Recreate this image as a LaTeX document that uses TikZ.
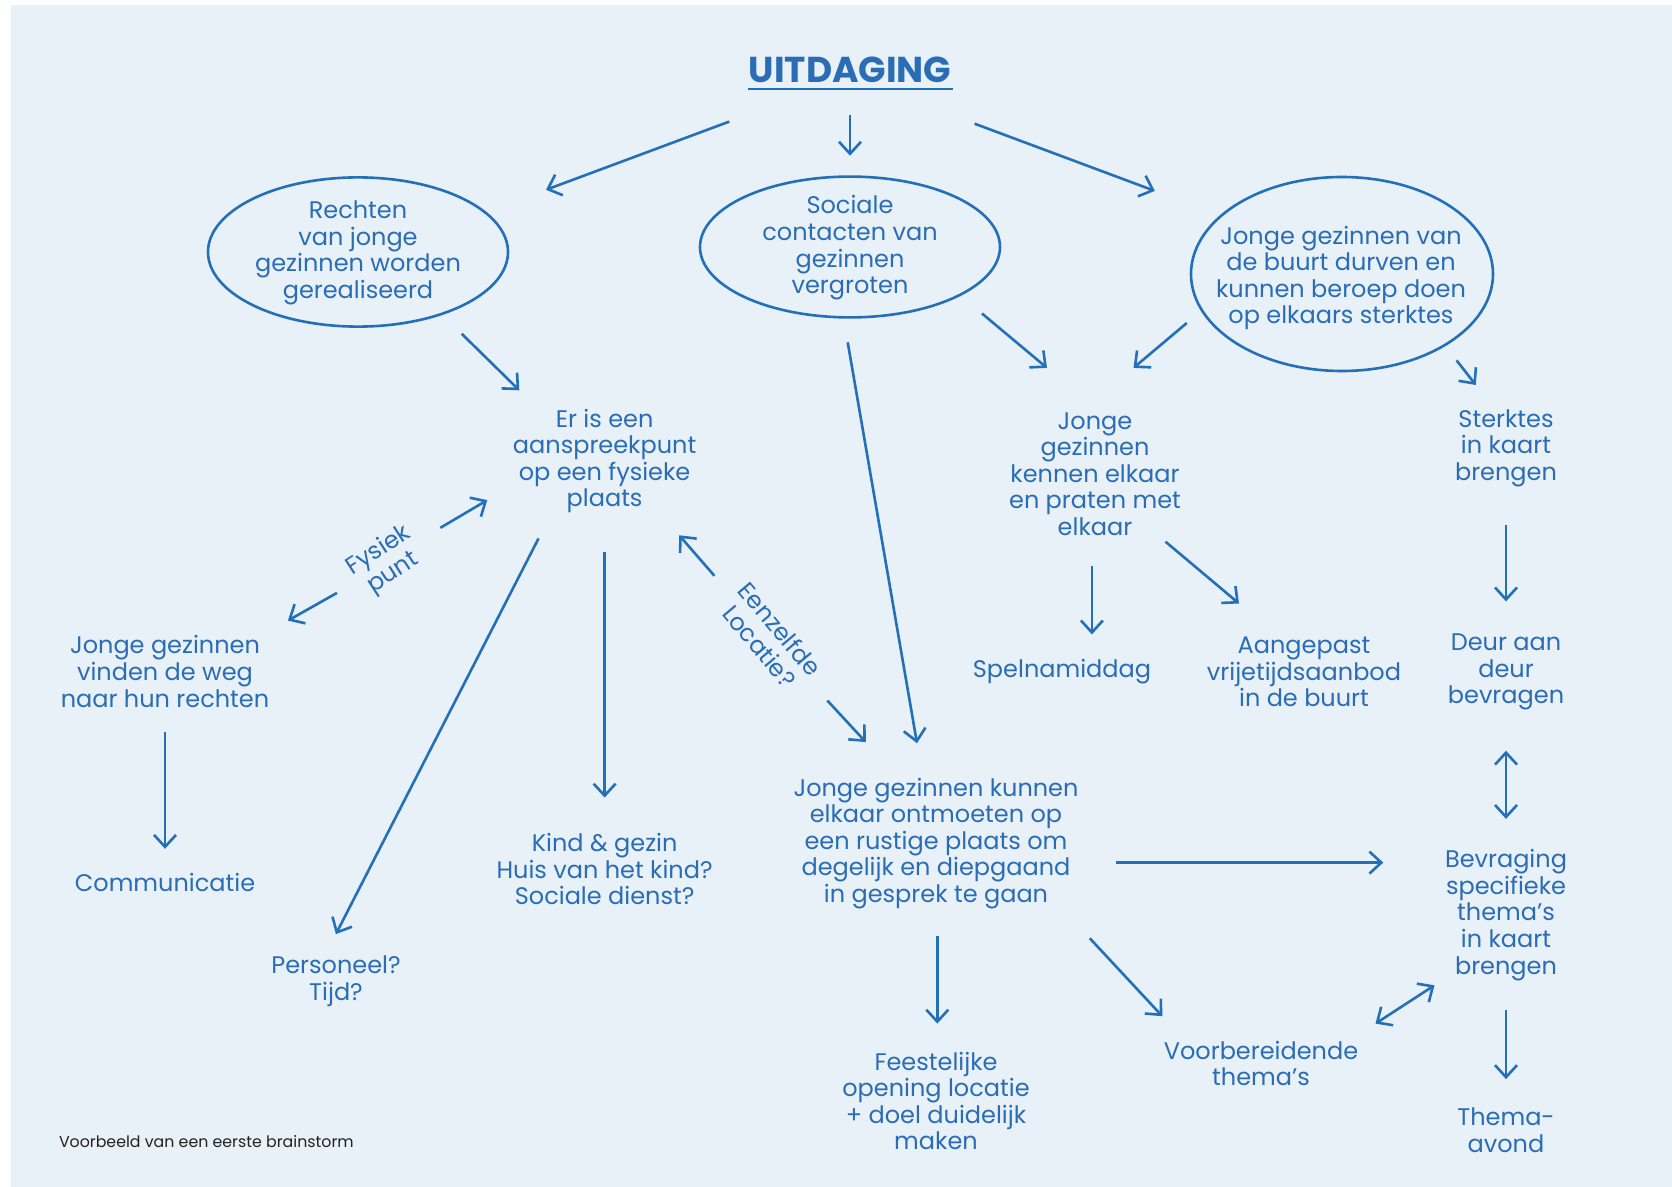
\documentclass[tikz,border=0pt]{standalone}
\usepackage{fontspec}
\setmainfont{Poppins}
\usetikzlibrary{arrows.meta,shapes.geometric}
\definecolor{bgc}{HTML}{E8F0F8}
\definecolor{lblue}{HTML}{2470B8}
\definecolor{tblue}{HTML}{2A6DB5}
\definecolor{footc}{HTML}{222222}
\begin{document}
\begin{tikzpicture}[x=0.5pt,y=-0.5pt,
  txt/.style={align=center,inner sep=0pt,text=tblue,font=\fontsize{12}{13.3}\selectfont},
  arr/.style={draw=lblue,line width=1.3pt,-{Straight Barb[length=6pt,width=11pt]}},
  darr/.style={draw=lblue,line width=1.3pt,{Straight Barb[length=6pt,width=11pt]}-{Straight Barb[length=6pt,width=11pt]}},
  ell/.style={draw=lblue,line width=1.3pt,ellipse,inner sep=0pt}]
\useasboundingbox (0,0) rectangle (1672,1187);
\fill[bgc] (11,5) rectangle (1672,1187);
% title
\node[font=\fontsize{18}{20}\selectfont\bfseries,text=tblue,inner sep=0pt] (title) at (850,70) {UITDAGING};
\draw[lblue,line width=0.9pt] ([shift={(-102,19)}]title.center) -- ([shift={(103,19)}]title.center);
% ellipses
\node[ell,minimum width=150pt,minimum height=74.6pt] (e1) at (358,252) {};
\node[ell,minimum width=150pt,minimum height=70.4pt] (e2) at (850,247) {};
\node[ell,minimum width=151pt,minimum height=97pt] (e3) at (1342,274) {};
\node[txt] (t1) at (358,253) {Rechten\\van jonge\\gezinnen worden\\gerealiseerd};
\node[txt] (t2) at (850,248) {Sociale\\contacten van\\gezinnen\\vergroten};
\node[txt] (t3) at (1341,278) {Jonge gezinnen van\\de buurt durven en\\kunnen beroep doen\\op elkaars sterktes};
% text nodes
\node[txt] (asp) at (604.6,461) {Er is een\\aanspreekpunt\\op een fysieke\\plaats};
\node[txt] (ken) at (1095,474) {Jonge\\gezinnen\\kennen elkaar\\en praten met\\elkaar};
\node[txt] (ster) at (1506,448) {Sterktes\\in kaart\\brengen};
\node[txt] (vind) at (165,671.5) {Jonge gezinnen\\vinden de weg\\naar hun rechten};
\node[txt] (comm) at (165,882) {Communicatie};
\node[txt] (kind) at (604.6,869) {Kind \& gezin\\Huis van het kind?\\Sociale dienst?};
\node[txt] (pers) at (336,981.5) {Personeel?\\Tijd?};
\node[txt] (ontm) at (936,843.5) {Jonge gezinnen kunnen\\elkaar ontmoeten op\\een rustige plaats om\\degelijk en diepgaand\\in gesprek te gaan};
\node[txt] (spel) at (1062,672) {Spelnamiddag};
\node[txt] (aang) at (1304,672) {Aangepast\\vrijetijdsaanbod\\in de buurt};
\node[txt] (deur) at (1506,672) {Deur aan\\deur\\bevragen};
\node[txt] (bevr) at (1506,915) {Bevraging\\specifieke\\thema’s\\in kaart\\brengen};
\node[txt] (feest) at (936,1101) {Feestelijke\\opening locatie\\+ doel duidelijk\\maken};
\node[txt] (voor) at (1261,1063.5) {Voorbereidende\\thema’s};
\node[txt] (thema) at (1506,1130) {Thema-\\avond};
\node[txt,rotate=33] (fys) at (386,562) {Fysiek\\punt};
\node[txt,rotate=-50] (eenz) at (770,637.6) {Eenzelfde\\Locatie?};
\node[anchor=base west,inner sep=0pt,text=footc,font=\fontsize{7.9}{9}\selectfont] (foot) at (58.6,1147) {Voorbeeld van een eerste brainstorm};
% connectors
\draw[arr] ([shift={(-120.7,51.6)}]title.center) -- ([shift={(188,-62.2)}]e1.center);
\draw[arr] ([shift={(0,45.2)}]title.center) -- ([shift={(0,-91.3)}]e2.center);
\draw[arr] ([shift={(124.6,53.7)}]title.center) -- ([shift={(-187.2,-83.1)}]e3.center);
\draw[arr] ([shift={(103.7,81.8)}]e1.center) -- ([shift={(-85.3,-70.7)}]asp.center);
\draw[arr] ([shift={(-2.3,95.3)}]e2.center) -- ([shift={(-19,-100.3)}]ontm.center);
\draw[arr] ([shift={(132,66.5)}]e2.center) -- ([shift={(-48,-106.1)}]ken.center);
\draw[arr] ([shift={(-155.2,49)}]e3.center) -- ([shift={(38.5,-106.1)}]ken.center);
\draw[arr] ([shift={(114.6,86.4)}]e3.center) -- ([shift={(-30.2,-63)}]ster.center);
\draw[arr] ([shift={(54.4,-34.2)}]fys.center) -- ([shift={(-117.3,39.1)}]asp.center);
\draw[arr] ([shift={(-49,30.9)}]fys.center) -- ([shift={(122.9,-50.9)}]vind.center);
\draw[arr] ([shift={(-66.1,77.5)}]asp.center) -- ([shift={(-0.1,-47.4)}]pers.center);
\draw[arr] ([shift={(0,91.3)}]asp.center) -- ([shift={(0,-71.4)}]kind.center);
\draw[arr] ([shift={(-55.6,-61.8)}]eenz.center) -- ([shift={(74.6,74.3)}]asp.center);
\draw[arr] ([shift={(57.4,63)}]eenz.center) -- ([shift={(-70.2,-101.4)}]ontm.center);
\draw[arr] ([shift={(0,60)}]vind.center) -- ([shift={(0,-33.2)}]comm.center);
\draw[arr] ([shift={(-3.1,92.2)}]ken.center) -- ([shift={(29.9,-37.6)}]spel.center);
\draw[arr] ([shift={(70.5,67.7)}]ken.center) -- ([shift={(-65,-68.5)}]aang.center);
\draw[arr] ([shift={(0,76.6)}]ster.center) -- ([shift={(0,-70.6)}]deur.center);
\draw[darr] ([shift={(0,78.7)}]deur.center) -- ([shift={(0,-96.1)}]bevr.center);
\draw[arr] ([shift={(180.4,19.1)}]ontm.center) -- ([shift={(-122.7,-52.4)}]bevr.center);
\draw[arr] ([shift={(1.3,92.7)}]ontm.center) -- ([shift={(1.3,-77.4)}]feest.center);
\draw[arr] ([shift={(153.8,94.8)}]ontm.center) -- ([shift={(-98.7,-47.3)}]voor.center);
\draw[darr] ([shift={(114.5,-39.9)}]voor.center) -- ([shift={(-71.5,70.3)}]bevr.center);
\draw[arr] ([shift={(0,94.8)}]bevr.center) -- ([shift={(0,-50.9)}]thema.center);
\end{tikzpicture}
\end{document}
